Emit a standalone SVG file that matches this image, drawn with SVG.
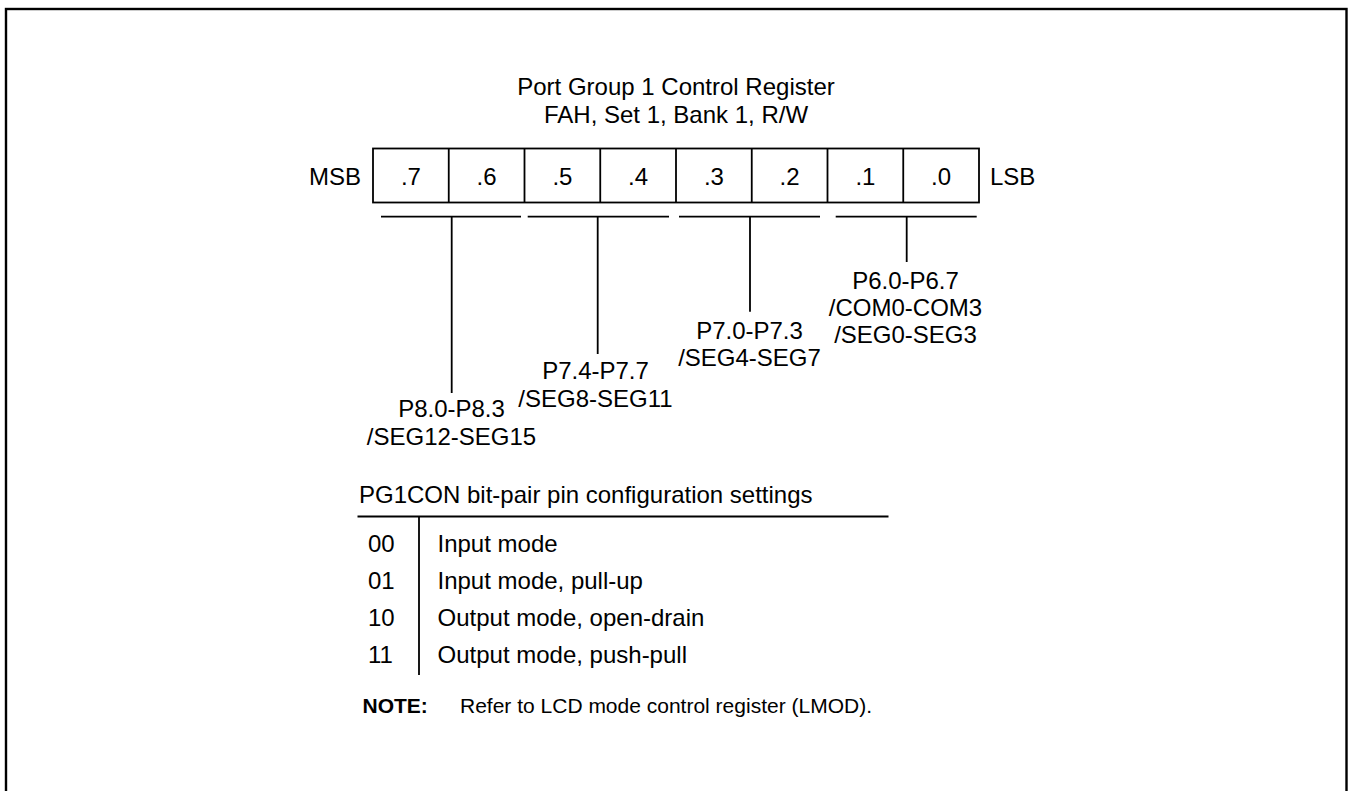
<svg xmlns="http://www.w3.org/2000/svg" width="1351" height="791" viewBox="0 0 1351 791">
<style>
text{font-family:"Liberation Sans",Arial,sans-serif;font-size:24px;fill:#000}
.c{text-anchor:middle}
.n{font-size:21px}
.b{font-weight:bold}
.ln{stroke:#000;stroke-width:1.8;fill:none}
</style>
<rect x="6" y="9" width="1340.5" height="800" fill="#fff" stroke="#000" stroke-width="2.4"/>
<g id="title">
<text class="c" x="676" y="95">Port Group 1 Control Register</text>
<text class="c" x="676" y="123">FAH, Set 1, Bank 1, R/W</text>
</g>
<g id="register">
<rect class="ln" x="373" y="148.5" width="606" height="54"/>
<path class="ln" d="M448.75 148.5V202.5M524.5 148.5V202.5M600.25 148.5V202.5M676 148.5V202.5M751.75 148.5V202.5M827.5 148.5V202.5M903.25 148.5V202.5"/>
<text x="361" y="185" text-anchor="end">MSB</text>
<text x="990" y="185">LSB</text>
<text class="c" x="410.9" y="185">.7</text>
<text class="c" x="486.6" y="185">.6</text>
<text class="c" x="562.4" y="185">.5</text>
<text class="c" x="638.1" y="185">.4</text>
<text class="c" x="713.9" y="185">.3</text>
<text class="c" x="789.6" y="185">.2</text>
<text class="c" x="865.4" y="185">.1</text>
<text class="c" x="941.1" y="185">.0</text>
</g>
<g id="connectors">
<path class="ln" d="M381 216.7H521M527.7 216.7H669M679 216.7H820M835.7 216.7H976.7"/>
<path class="ln" d="M451.7 216.7V393M597.7 216.7V354M750 216.7V311.7M906.7 216.7V262"/>
</g>
<g id="pair76">
<text class="c" x="451.5" y="417">P8.0-P8.3</text>
<text class="c" x="451.5" y="445">/SEG12-SEG15</text>
</g>
<g id="pair54">
<text class="c" x="595.5" y="379">P7.4-P7.7</text>
<text class="c" x="595.5" y="406.5">/SEG8-SEG11</text>
</g>
<g id="pair32">
<text class="c" x="749.5" y="339">P7.0-P7.3</text>
<text class="c" x="749.5" y="366">/SEG4-SEG7</text>
</g>
<g id="pair10">
<text class="c" x="905.5" y="288.5">P6.0-P6.7</text>
<text class="c" x="905.5" y="316">/COM0-COM3</text>
<text class="c" x="905.5" y="343">/SEG0-SEG3</text>
</g>
<g id="table">
<text x="359" y="503">PG1CON bit-pair pin configuration settings</text>
<path class="ln" d="M357.5 516.5H888.5M419 516.5V675"/>
<text x="368" y="552">00</text>
<text x="368" y="588.5">01</text>
<text x="368" y="625.5">10</text>
<text x="368" y="663">11</text>
<text x="437.5" y="552">Input mode</text>
<text x="437.5" y="588.5">Input mode, pull-up</text>
<text x="437.5" y="625.5">Output mode, open-drain</text>
<text x="437.5" y="663">Output mode, push-pull</text>
</g>
<g id="note">
<text class="n b" x="362.5" y="713">NOTE:</text>
<text class="n" x="460" y="713">Refer to LCD mode control register (LMOD).</text>
</g>
</svg>
